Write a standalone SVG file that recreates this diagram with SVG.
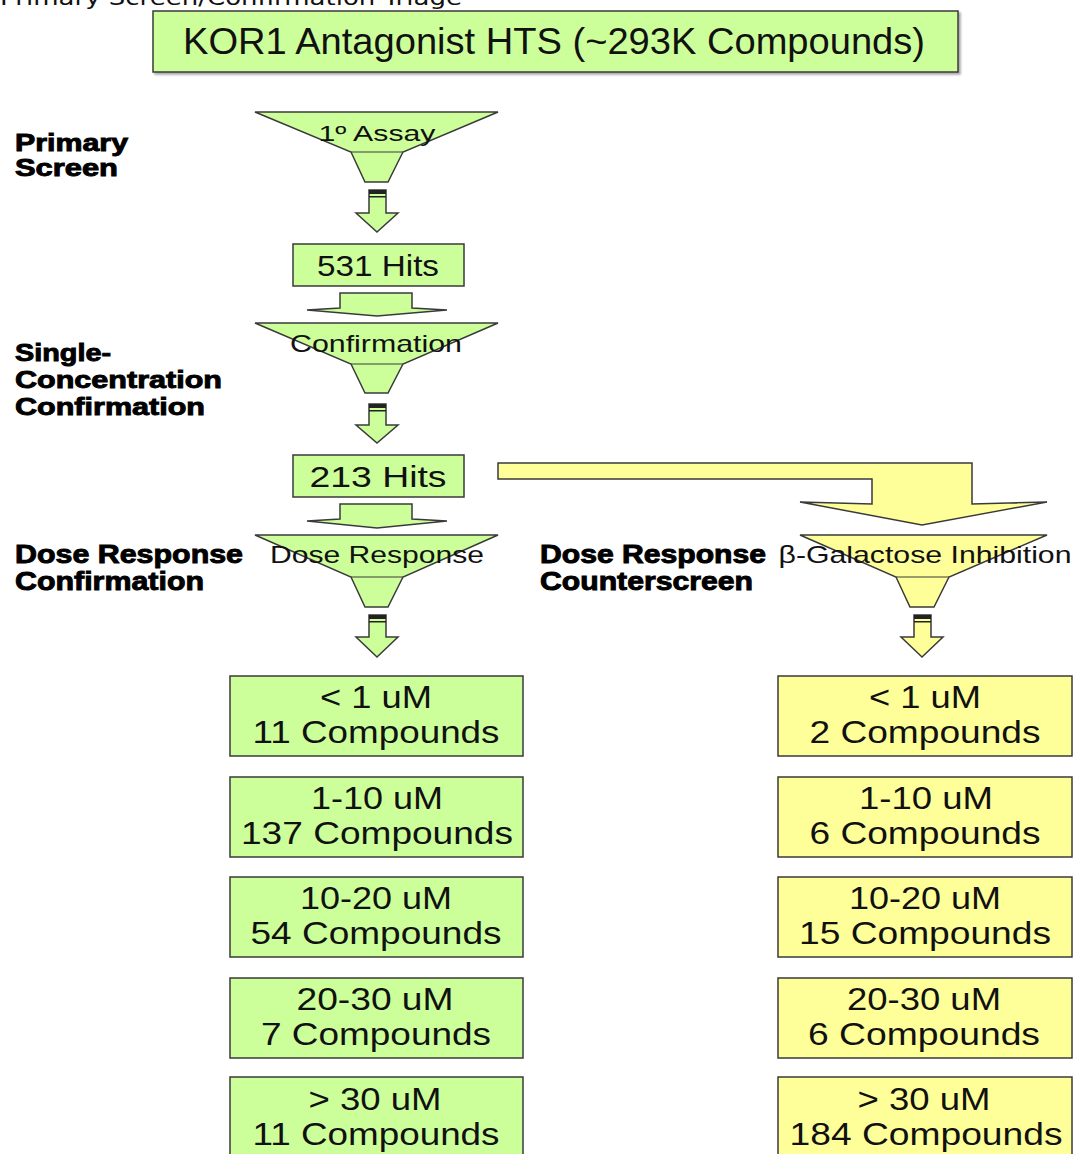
<svg xmlns="http://www.w3.org/2000/svg" width="1074" height="1154" viewBox="0 0 1074 1154">
<style>
.g{fill:#ccff99;stroke:#3a3a3a;stroke-width:1.5}
.y{fill:#ffff99;stroke:#3a3a3a;stroke-width:1.5}
.t{font-family:"Liberation Sans",Arial,sans-serif;fill:#111;text-anchor:middle}
.lb{font-family:"Liberation Sans",Arial,sans-serif;font-weight:bold;fill:#000;stroke:#000;stroke-width:0.9}
.bx{font-size:31px}
.band{fill:#222}
</style>
<defs>
<filter id="sh" x="-5%" y="-5%" width="115%" height="130%">
<feDropShadow dx="2" dy="2" stdDeviation="1" flood-color="#000" flood-opacity="0.35"/>
</filter>
</defs>
<rect width="1074" height="1154" fill="#fff"/>
<text x="0" y="5" font-family="DejaVu Sans,Verdana,sans-serif" font-size="22" fill="#111" textLength="462" lengthAdjust="spacingAndGlyphs">Primary Screen/Confirmation Triage</text>

<g id="title">
<rect class="g" x="153" y="11" width="805" height="61" filter="url(#sh)"/>
<text class="t" x="554" y="54" font-size="36" textLength="742" lengthAdjust="spacingAndGlyphs">KOR1 Antagonist HTS (~293K Compounds)</text>
</g>

<g id="labels">
<text class="lb" x="15" y="151" font-size="24" textLength="113" lengthAdjust="spacingAndGlyphs">Primary</text>
<text class="lb" x="15" y="176" font-size="24" textLength="103" lengthAdjust="spacingAndGlyphs">Screen</text>
<text class="lb" x="15" y="361" font-size="24" textLength="96" lengthAdjust="spacingAndGlyphs">Single-</text>
<text class="lb" x="15" y="388" font-size="24" textLength="207" lengthAdjust="spacingAndGlyphs">Concentration</text>
<text class="lb" x="15" y="415" font-size="24" textLength="190" lengthAdjust="spacingAndGlyphs">Confirmation</text>
<text class="lb" x="15" y="563" font-size="25" textLength="228" lengthAdjust="spacingAndGlyphs">Dose Response</text>
<text class="lb" x="15" y="590" font-size="25" textLength="189" lengthAdjust="spacingAndGlyphs">Confirmation</text>
<text class="lb" x="540" y="563" font-size="25" textLength="226" lengthAdjust="spacingAndGlyphs">Dose Response</text>
<text class="lb" x="540" y="590" font-size="25" textLength="213" lengthAdjust="spacingAndGlyphs">Counterscreen</text>
</g>

<g id="connectors">
<g id="arrow1">
<polygon class="g" points="369,190 386,190 386,213 398,213 377,232 356,213 369,213"/>
<rect class="band" x="369" y="190" width="17" height="4"/><rect class="band" x="369" y="196" width="17" height="1.5"/>
</g>
<g id="arrow2">
<polygon class="g" points="340,293 412,293 412,308 447,310 377,316 307,310 340,308"/>
</g>
<g id="arrow3">
<polygon class="g" points="369,404 386,404 386,425 398,425 377,443 356,425 369,425"/>
<rect class="band" x="369" y="404" width="17" height="4"/><rect class="band" x="369" y="410" width="17" height="1.5"/>
</g>
<g id="arrow4">
<polygon class="g" points="340,504 412,504 412,519 447,521 377,528 307,521 340,519"/>
</g>
<g id="arrow5">
<polygon class="g" points="369,615 386,615 386,637 398,637 377,657 356,637 369,637"/>
<rect class="band" x="369" y="615" width="17" height="4"/><rect class="band" x="369" y="621" width="17" height="1.5"/>
</g>
<g id="arrowY">
<polygon class="y" points="498,463 972,463 972,504 1047,502 922,525 800,502 872,504 872,479 498,479"/>
</g>
<g id="arrow6">
<polygon class="y" points="914,615 931,615 931,637 943,637 922,657 901,637 914,637"/>
<rect class="band" x="914" y="615" width="17" height="4"/><rect class="band" x="914" y="621" width="17" height="1.5"/>
</g>
</g>

<g id="funnel1">
<polygon class="g" points="255,112 498,112 403,152 388,182 365,182 351,152"/>
<line x1="351" y1="152" x2="403" y2="152" stroke="#3a3a3a" stroke-width="1.2"/>
<text class="t" x="377" y="141" font-size="22" textLength="117" lengthAdjust="spacingAndGlyphs">1º Assay</text>
</g>

<g id="hits531">
<rect class="g" x="293" y="244" width="171" height="42"/>
<text class="t" x="378" y="276" font-size="29" textLength="122" lengthAdjust="spacingAndGlyphs">531 Hits</text>
</g>

<g id="funnel2">
<polygon class="g" points="255,323 498,323 403,364 388,393 365,393 351,364"/>
<line x1="351" y1="364" x2="403" y2="364" stroke="#3a3a3a" stroke-width="1.2"/>
<text class="t" x="376" y="352" font-size="24" textLength="172" lengthAdjust="spacingAndGlyphs">Confirmation</text>
</g>

<g id="hits213">
<rect class="g" x="293" y="455" width="171" height="42"/>
<text class="t" x="378" y="487" font-size="29" textLength="137" lengthAdjust="spacingAndGlyphs">213 Hits</text>
</g>

<g id="funnel3">
<polygon class="g" points="255,535 498,535 403,577 388,607 365,607 351,577"/>
<line x1="351" y1="577" x2="403" y2="577" stroke="#3a3a3a" stroke-width="1.2"/>
<text class="t" x="377" y="563" font-size="24" textLength="214" lengthAdjust="spacingAndGlyphs">Dose Response</text>
</g>

<g id="funnel4">
<polygon class="y" points="800,535 1047,535 949,577 934,607 910,607 896,577"/>
<line x1="896" y1="577" x2="949" y2="577" stroke="#3a3a3a" stroke-width="1.2"/>
<text class="t" x="925" y="563" font-size="24" textLength="293" lengthAdjust="spacingAndGlyphs">β-Galactose Inhibition</text>
</g>

<g id="g1"><rect class="g" x="230" y="676" width="293" height="80"/>
<text class="t bx" x="376" y="708" textLength="112" lengthAdjust="spacingAndGlyphs">&lt; 1 uM</text>
<text class="t bx" x="376" y="743" textLength="247" lengthAdjust="spacingAndGlyphs">11 Compounds</text></g>
<g id="g2"><rect class="g" x="230" y="777" width="293" height="80"/>
<text class="t bx" x="377" y="809" textLength="132" lengthAdjust="spacingAndGlyphs">1-10 uM</text>
<text class="t bx" x="377" y="844" textLength="272" lengthAdjust="spacingAndGlyphs">137 Compounds</text></g>
<g id="g3"><rect class="g" x="230" y="877" width="293" height="80"/>
<text class="t bx" x="376" y="909" textLength="152" lengthAdjust="spacingAndGlyphs">10-20 uM</text>
<text class="t bx" x="376" y="944" textLength="251" lengthAdjust="spacingAndGlyphs">54 Compounds</text></g>
<g id="g4"><rect class="g" x="230" y="978" width="293" height="80"/>
<text class="t bx" x="375" y="1010" textLength="157" lengthAdjust="spacingAndGlyphs">20-30 uM</text>
<text class="t bx" x="376" y="1045" textLength="230" lengthAdjust="spacingAndGlyphs">7 Compounds</text></g>
<g id="g5"><rect class="g" x="230" y="1077" width="293" height="80"/>
<text class="t bx" x="375" y="1110" textLength="133" lengthAdjust="spacingAndGlyphs">&gt; 30 uM</text>
<text class="t bx" x="376" y="1145" textLength="247" lengthAdjust="spacingAndGlyphs">11 Compounds</text></g>

<g id="y1"><rect class="y" x="778" y="676" width="294" height="80"/>
<text class="t bx" x="925" y="708" textLength="112" lengthAdjust="spacingAndGlyphs">&lt; 1 uM</text>
<text class="t bx" x="925" y="743" textLength="231" lengthAdjust="spacingAndGlyphs">2 Compounds</text></g>
<g id="y2"><rect class="y" x="778" y="777" width="294" height="80"/>
<text class="t bx" x="926" y="809" textLength="134" lengthAdjust="spacingAndGlyphs">1-10 uM</text>
<text class="t bx" x="925" y="844" textLength="231" lengthAdjust="spacingAndGlyphs">6 Compounds</text></g>
<g id="y3"><rect class="y" x="778" y="877" width="294" height="80"/>
<text class="t bx" x="925" y="909" textLength="152" lengthAdjust="spacingAndGlyphs">10-20 uM</text>
<text class="t bx" x="925" y="944" textLength="252" lengthAdjust="spacingAndGlyphs">15 Compounds</text></g>
<g id="y4"><rect class="y" x="778" y="978" width="294" height="80"/>
<text class="t bx" x="924" y="1010" textLength="154" lengthAdjust="spacingAndGlyphs">20-30 uM</text>
<text class="t bx" x="924" y="1045" textLength="232" lengthAdjust="spacingAndGlyphs">6 Compounds</text></g>
<g id="y5"><rect class="y" x="778" y="1077" width="294" height="80"/>
<text class="t bx" x="924" y="1110" textLength="133" lengthAdjust="spacingAndGlyphs">&gt; 30 uM</text>
<text class="t bx" x="926" y="1145" textLength="273" lengthAdjust="spacingAndGlyphs">184 Compounds</text></g>
</svg>
